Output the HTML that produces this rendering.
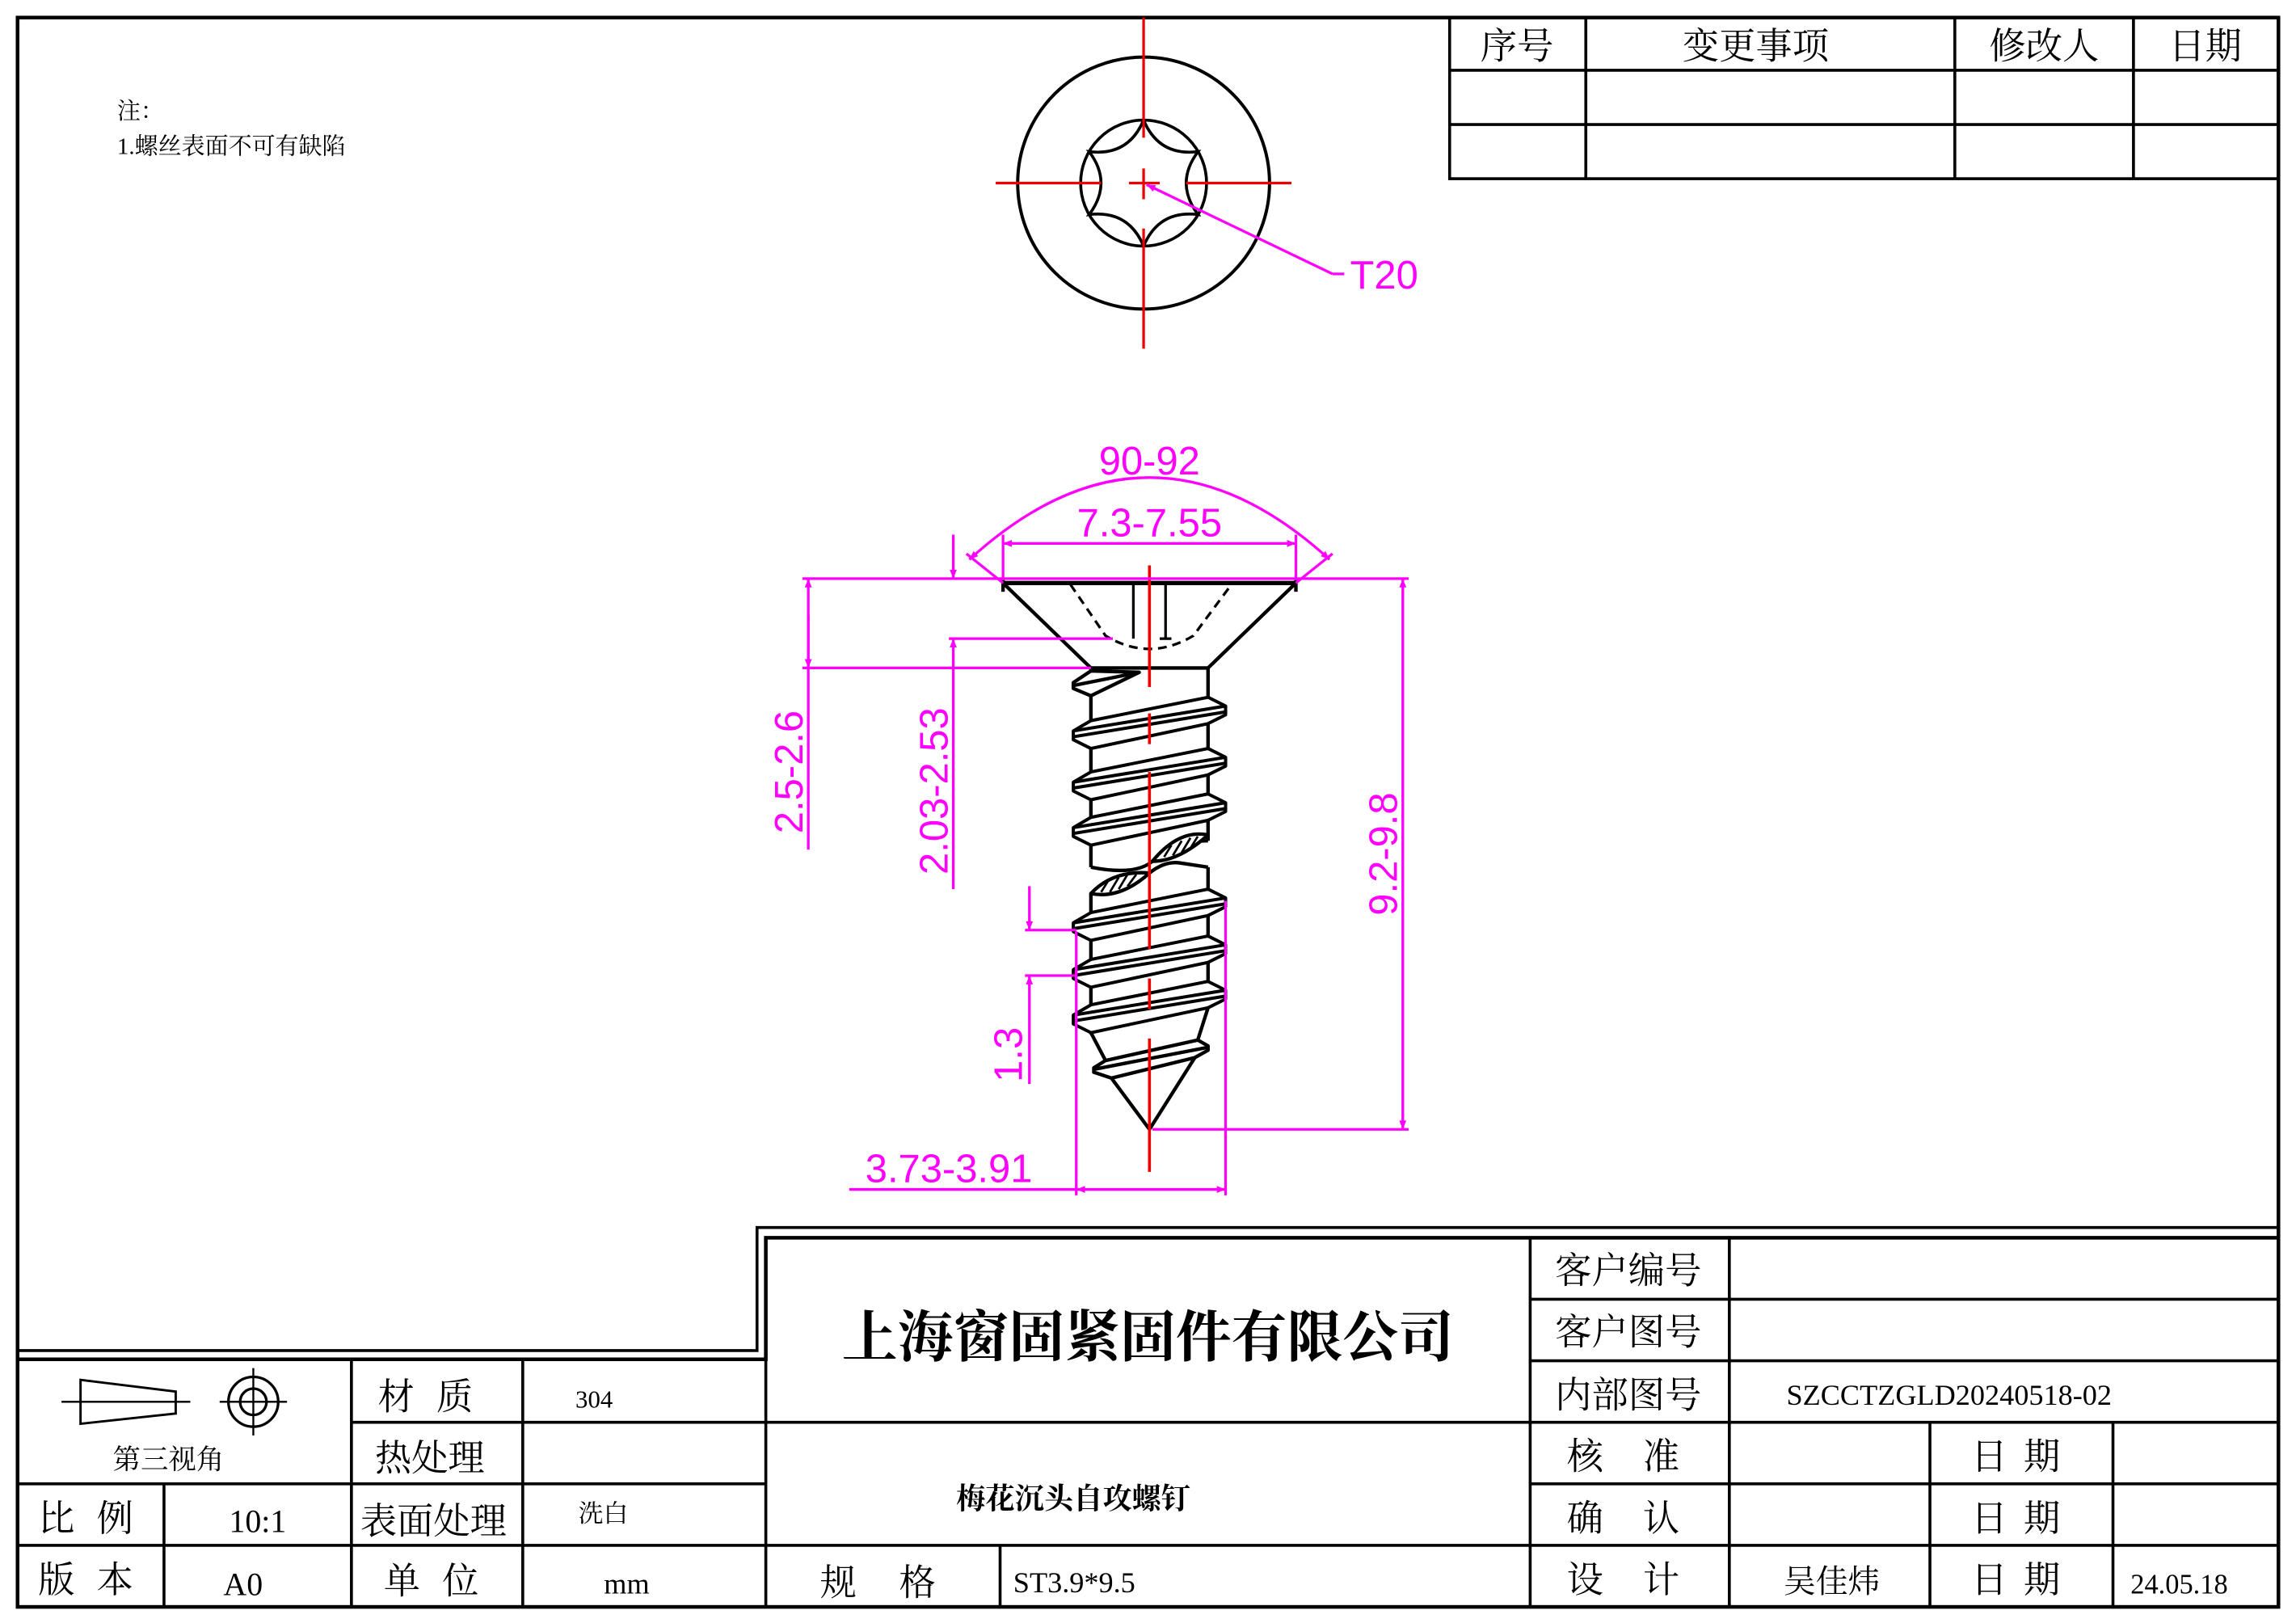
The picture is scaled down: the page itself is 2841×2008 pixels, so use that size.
<!DOCTYPE html>
<html><head><meta charset="utf-8"><style>
html,body{margin:0;padding:0;background:#fff;}
svg{display:block;}
.c{font-family:"Liberation Serif","Noto Serif CJK SC",serif;fill:#000;}
.m{font-family:"Liberation Sans",sans-serif;fill:#ff00ff;font-size:27px;}
</style></head><body>
<svg width="2841" height="2008" viewBox="0 0 1568 1108" preserveAspectRatio="none" xmlns="http://www.w3.org/2000/svg">
<rect x="0" y="0" width="1568" height="1108" fill="#fff"/>
<defs>
<marker id="ar" viewBox="0 0 10 10" refX="10" refY="5" markerWidth="16" markerHeight="6" markerUnits="userSpaceOnUse" orient="auto-start-reverse"><path d="M0,1 L10,5 L0,9z" fill="#ff00ff"/></marker>
<g id="th" stroke="#000" stroke-width="2.2" fill="#fff" stroke-linejoin="round">
<polygon points="745,-10 733,-3 733,3 745,9 825,-8 837,-14 837,-20 825,-26"/>
<line x1="733" y1="-3" x2="837" y2="-20"/>
<line x1="733" y1="1" x2="837" y2="-16"/>
</g>
</defs>

<g stroke="#000" fill="none">
<rect x="12" y="12" width="1544" height="1085" stroke-width="2.5"/>
<polyline points="12,922 517,922 517,838 1556,838" stroke-width="2"/>
<polyline points="12,928 523,928 523,845 1556,845" stroke-width="2.5"/>
</g>

<text class="c" x="80" y="81" font-size="16">注：</text>
<text class="c" x="80" y="105" font-size="16">1.螺丝表面不可有缺陷</text>

<g stroke="#000" stroke-width="2" fill="none">
<rect x="990" y="12" width="566" height="110"/>
<line x1="990" y1="48" x2="1556" y2="48"/><line x1="990" y1="85" x2="1556" y2="85"/>
<line x1="1083" y1="12" x2="1083" y2="122"/><line x1="1335" y1="12" x2="1335" y2="122"/><line x1="1457" y1="12" x2="1457" y2="122"/>
</g>
<g class="c" font-size="25" text-anchor="middle">
<text x="1036" y="40">序号</text><text x="1199" y="40">变更事项</text><text x="1396" y="40">修改人</text><text x="1506" y="40">日期</text>
</g>

<circle cx="781" cy="125" r="86" fill="none" stroke="#000" stroke-width="2.2"/>
<circle cx="781" cy="125" r="43" fill="none" stroke="#000" stroke-width="2"/>
<path d="M781,82 Q791.5,106.8 818.2,103.5 Q802,125 818.2,146.5 Q791.5,143.2 781,168 Q770.5,143.2 743.8,146.5 Q760,125 743.8,103.5 Q770.5,106.8 781,82Z" fill="none" stroke="#000" stroke-width="2"/>
<g stroke="#e00" stroke-width="1.8">
<line x1="680" y1="125" x2="752" y2="125"/><line x1="771" y1="125" x2="792" y2="125"/><line x1="810" y1="125" x2="882" y2="125"/>
<line x1="781" y1="12" x2="781" y2="94"/><line x1="781" y1="115" x2="781" y2="136"/><line x1="781" y1="156" x2="781" y2="238"/>
</g>
<polyline points="910,187 918,187" stroke="#ff00ff" stroke-width="1.8"/>
<line x1="910" y1="187" x2="783" y2="126" stroke="#ff00ff" stroke-width="1.8" marker-end="url(#ar)"/>
<text class="m" x="922" y="197">T20</text>

<g stroke="#000" stroke-width="2.4" fill="none" stroke-linejoin="round">
<line x1="685" y1="398" x2="885" y2="398" stroke-width="3"/>
<polyline points="685,398 745,456 825,456 885,398"/>
<line x1="685" y1="396" x2="685" y2="404"/><line x1="885" y1="396" x2="885" y2="404"/>
<line x1="774" y1="399" x2="774" y2="436" stroke-width="1.8"/>
<line x1="796" y1="399" x2="796" y2="436" stroke-width="1.8"/>
<line x1="792" y1="436" x2="800" y2="436" stroke-width="1.8"/>
<path d="M731,399 L755,434 Q785,452 815,434 L841,399" stroke-dasharray="6,4" stroke-width="1.8"/>
<line x1="745" y1="456" x2="745" y2="592"/>
<line x1="825" y1="456" x2="825" y2="574"/>
<line x1="745" y1="610" x2="745" y2="706"/>
<line x1="825" y1="592" x2="825" y2="688"/>
<polygon points="745,458 733,466 733,470 745,475 778,459" fill="#fff"/>
<line x1="733" y1="468" x2="778" y2="459"/>
<path d="M745,592 Q775,598 787,588 Q800,574 825,574"/>
<path d="M787,588 Q805,566 825,570 Q805,588 787,588Z" fill="#fff"/>
<path d="M785,596 Q795,588 805,589 L825,592"/>
<path d="M745,610 Q760,594 785,596 Q765,614 745,610Z" fill="#fff"/>
</g>
<g stroke="#000" stroke-width="1.5">
<line x1="795" y1="585" x2="800" y2="577"/><line x1="801" y1="584" x2="807" y2="574"/><line x1="807" y1="582" x2="813" y2="572"/><line x1="813" y1="579" x2="818" y2="571"/>
<line x1="752" y1="609" x2="757" y2="601"/><line x1="758" y1="609" x2="764" y2="599"/><line x1="764" y1="607" x2="770" y2="597"/><line x1="770" y1="605" x2="776" y2="597"/>
</g>
<use href="#th" y="502"/><use href="#th" y="537"/><use href="#th" y="568"/>
<use href="#th" y="633"/><use href="#th" y="665"/><use href="#th" y="696"/>
<g stroke="#000" stroke-width="2.4" fill="#fff" stroke-linejoin="round">
<polyline points="745,705 755,724" fill="none"/>
<polyline points="825,688 818,710" fill="none"/>
<polygon points="755,724 747,729 747,732 759,736 816,722 825,717 825,714 818,710"/>
<line x1="747" y1="730" x2="825" y2="715"/>
<polyline points="759,736 785,771 816,722" fill="none"/>
</g>
<g stroke="#e00" stroke-width="2">
<line x1="785" y1="386" x2="785" y2="469"/><line x1="785" y1="487" x2="785" y2="508"/><line x1="785" y1="527" x2="785" y2="648"/><line x1="785" y1="668" x2="785" y2="689"/><line x1="785" y1="709" x2="785" y2="800"/>
</g>

<g stroke="#ff00ff" stroke-width="1.8" fill="none">
<line x1="548" y1="395" x2="962" y2="395"/>
<line x1="648" y1="436" x2="760" y2="436"/>
<line x1="548" y1="456" x2="745" y2="456"/>
<line x1="660" y1="378" x2="685" y2="398"/><line x1="910" y1="378" x2="885" y2="398"/>
<path d="M662,382 Q785,270 908,382" marker-start="url(#ar)" marker-end="url(#ar)"/>
<line x1="685" y1="365" x2="685" y2="396"/><line x1="885" y1="365" x2="885" y2="396"/>
<line x1="685" y1="371" x2="885" y2="371" marker-start="url(#ar)" marker-end="url(#ar)"/>
<line x1="552" y1="395" x2="552" y2="580" marker-start="url(#ar)"/>
<line x1="552" y1="420" x2="552" y2="456" marker-end="url(#ar)"/>
<line x1="651" y1="365" x2="651" y2="395" marker-end="url(#ar)"/>
<line x1="651" y1="607" x2="651" y2="436" marker-end="url(#ar)"/>
<line x1="958" y1="395" x2="958" y2="771" marker-start="url(#ar)" marker-end="url(#ar)"/>
<line x1="787" y1="771" x2="962" y2="771"/>
<line x1="700" y1="635" x2="735" y2="635"/><line x1="700" y1="666" x2="735" y2="666"/>
<line x1="703" y1="605" x2="703" y2="635" marker-end="url(#ar)"/>
<line x1="703" y1="740" x2="703" y2="666" marker-end="url(#ar)"/>
<line x1="735" y1="636" x2="735" y2="816"/><line x1="837" y1="615" x2="837" y2="816"/>
<line x1="580" y1="812" x2="735" y2="812"/>
<line x1="735" y1="812" x2="837" y2="812" marker-start="url(#ar)" marker-end="url(#ar)"/>
</g>
<text class="m" x="785" y="324" text-anchor="middle">90-92</text>
<text class="m" x="785" y="366" text-anchor="middle">7.3-7.55</text>
<text class="m" x="648" y="807" text-anchor="middle">3.73-3.91</text>
<text class="m" transform="translate(548,527) rotate(-90)" text-anchor="middle">2.5-2.6</text>
<text class="m" transform="translate(647,540) rotate(-90)" text-anchor="middle">2.03-2.53</text>
<text class="m" transform="translate(954,583) rotate(-90)" text-anchor="middle">9.2-9.8</text>
<text class="m" transform="translate(698,720) rotate(-90)" text-anchor="middle">1.3</text>

<g stroke="#000" stroke-width="2" fill="none">
<line x1="12" y1="1013" x2="240" y2="1013"/><line x1="12" y1="1055" x2="523" y2="1055"/>
<line x1="240" y1="971" x2="523" y2="971"/><line x1="240" y1="1013" x2="523" y2="1013"/>
<line x1="112" y1="1013" x2="112" y2="1097"/>
<line x1="240" y1="928" x2="240" y2="1097"/><line x1="357" y1="928" x2="357" y2="1097"/>
<line x1="523" y1="928" x2="523" y2="1097"/>
<line x1="1045" y1="845" x2="1045" y2="1097"/>
<line x1="523" y1="971" x2="1556" y2="971"/>
<line x1="523" y1="1055" x2="1045" y2="1055"/>
<line x1="1045" y1="887" x2="1556" y2="887"/><line x1="1045" y1="929" x2="1556" y2="929"/>
<line x1="1045" y1="1013" x2="1556" y2="1013"/><line x1="1045" y1="1055" x2="1556" y2="1055"/>
<line x1="1181" y1="845" x2="1181" y2="1097"/>
<line x1="1318" y1="971" x2="1318" y2="1097"/><line x1="1443" y1="971" x2="1443" y2="1097"/>
<line x1="683" y1="1055" x2="683" y2="1097"/>
<polygon points="55,942 120,950 120,965 55,972" stroke-width="1.6"/>
<line x1="42" y1="957" x2="130" y2="957" stroke-width="1.3"/>
<circle cx="173" cy="957" r="17" stroke-width="1.8"/><circle cx="173" cy="957" r="9" stroke-width="1.8"/>
<line x1="150" y1="957" x2="196" y2="957" stroke-width="1.3"/><line x1="173" y1="934" x2="173" y2="980" stroke-width="1.3"/>
</g>
<g class="c" font-size="25">
<text x="115" y="1003" font-size="19" text-anchor="middle">第三视角</text>
<text x="26" y="1045">比</text><text x="66" y="1045">例</text><text x="176" y="1046" text-anchor="middle" font-size="22">10:1</text>
<text x="26" y="1087">版</text><text x="66" y="1087">本</text><text x="166" y="1089" text-anchor="middle" font-size="22">A0</text>
<text x="258" y="962">材</text><text x="298" y="962">质</text><text x="256" y="1004">热处理</text><text x="246" y="1047">表面处理</text><text x="262" y="1088">单</text><text x="302" y="1088">位</text>
<text x="393" y="961" font-size="17">304</text><text x="395" y="1039" font-size="17">洗白</text><text x="428" y="1088" font-size="20" text-anchor="middle">mm</text>
<text x="784" y="926" font-size="38" font-weight="bold" text-anchor="middle">上海窗固紧固件有限公司</text>
<text x="733" y="1030" font-size="20" font-weight="bold" text-anchor="middle">梅花沉头自攻螺钉</text>
<text x="560" y="1089">规</text><text x="614" y="1089">格</text><text x="692" y="1087" font-size="20">ST3.9*9.5</text>
<text x="1062" y="876">客户编号</text><text x="1062" y="918">客户图号</text><text x="1062" y="961">内部图号</text>
<text x="1070" y="1003">核</text><text x="1122" y="1003">准</text>
<text x="1070" y="1045">确</text><text x="1122" y="1045">认</text>
<text x="1070" y="1087">设</text><text x="1122" y="1087">计</text>
<text x="1220" y="959" font-size="20">SZCCTZGLD20240518-02</text>
<text x="1346" y="1003">日</text><text x="1382" y="1003">期</text>
<text x="1346" y="1045">日</text><text x="1382" y="1045">期</text>
<text x="1346" y="1087">日</text><text x="1382" y="1087">期</text>
<text x="1218" y="1087" font-size="22">吴佳炜</text><text x="1455" y="1088" font-size="19">24.05.18</text>
</g>
</svg>
</body></html>
